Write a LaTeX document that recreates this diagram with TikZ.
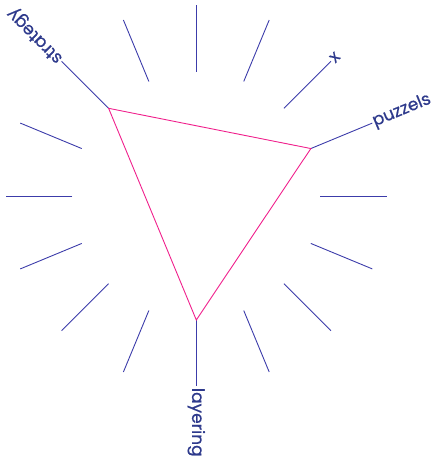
\documentclass[tikz,border=0pt]{standalone}
\usepackage{fontspec}
\setmainfont{Poppins}[FakeBold=0.6]
\usepackage{tikz}
\definecolor{spokeblue}{HTML}{3C3CAA}
\definecolor{labelblue}{HTML}{2E3A8C}
\definecolor{tripink}{HTML}{F0208C}
\tikzstyle{spoke} = [line width=0.9pt, color=spokeblue]
\tikzstyle{tri} = [line width=0.9pt, color=tripink, line join=miter]
\tikzstyle{lbl} = [anchor=west, inner sep=1.2pt, text=labelblue, font=\fontsize{17}{17}\selectfont]

\begin{document}
\begin{tikzpicture}[x=1pt, y=1pt]
    \useasboundingbox (0,0) rectangle (434,461);
    \coordinate (center) at (196.3,265);

    % plain spokes
    \foreach \a in {0,67.5,90,112.5,157.5,180,202.5,225,247.5,292.5,315,337.5} {
        \draw[spoke] ([shift={(\a:124)}]center) -- ([shift={(\a:190.5)}]center);
    }

    % labelled spokes
    \coordinate (strat-in) at ([shift={(135:124)}]center);
    \coordinate (strat-out) at ([shift={(135:190.5)}]center);
    \coordinate (x-in) at ([shift={(45:124)}]center);
    \coordinate (x-out) at ([shift={(45:190.5)}]center);
    \coordinate (puzz-in) at ([shift={(22.5:124)}]center);
    \coordinate (puzz-out) at ([shift={(22.5:190.5)}]center);
    \coordinate (layer-in) at ([shift={(270:124)}]center);
    \coordinate (layer-out) at ([shift={(270:190.5)}]center);

    \draw[spoke] (strat-in) -- (strat-out);
    \draw[spoke] (x-in) -- (x-out);
    \draw[spoke] (puzz-in) -- (puzz-out);
    \draw[spoke] (layer-in) -- (layer-out);

    % Labels
    \node[lbl, rotate=135] (strategy) at (strat-out) {strategy};
    \node[lbl, rotate=45] (xlabel) at (x-out) {x};
    \node[lbl, rotate=22.5] (puzzels) at (puzz-out) {puzzels};
    \node[lbl, rotate=270] (layering) at (layer-out) {layering};

    \draw[tri] (strat-in) -- (puzz-in) -- (layer-in) -- cycle;
\end{tikzpicture}
\end{document}
